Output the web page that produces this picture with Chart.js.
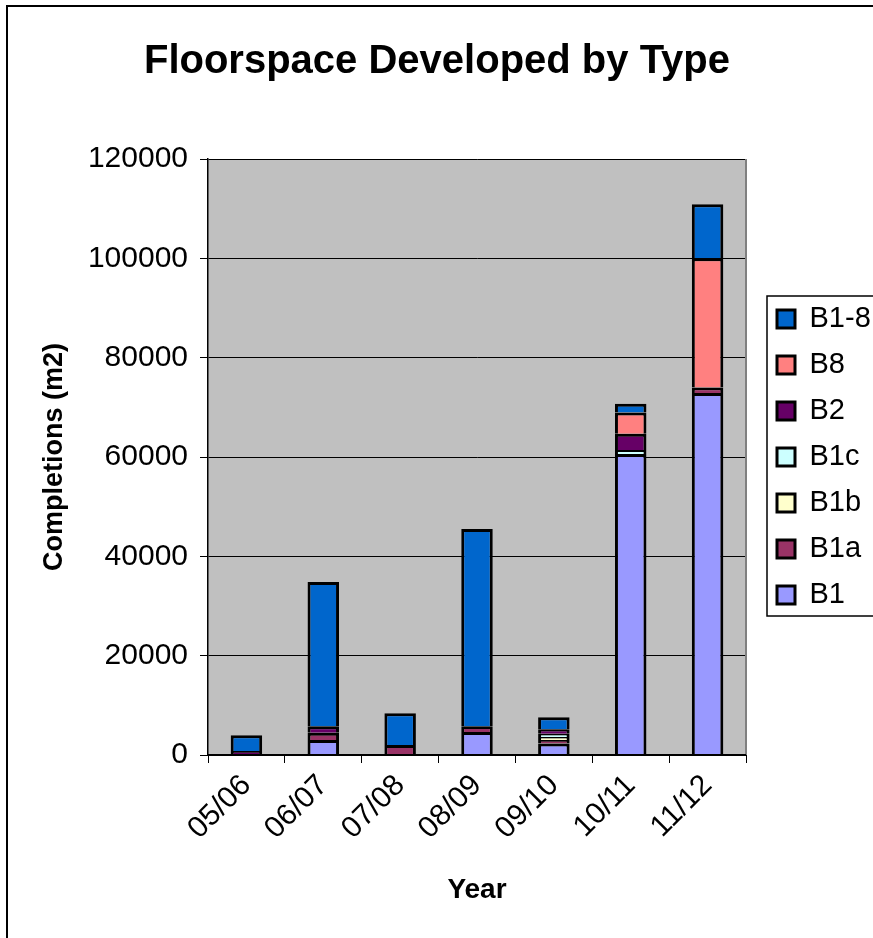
<!DOCTYPE html>
<html>
<head>
<meta charset="utf-8">
<script src="https://cdn.jsdelivr.net/npm/chart.js@4.4.1/dist/chart.umd.min.js"></script>
<style>
  html, body { margin: 0; padding: 0; background: #ffffff; }
  #wrap { width: 873px; height: 938px; }
</style>
</head>
<body>
<div id="wrap"><canvas id="chart" width="873" height="938"></canvas></div>
<script>
// Financial years on the x axis
const years = ['05/06', '06/07', '07/08', '08/09', '09/10', '10/11', '11/12'];

// Completed floorspace (m2) by use class, stacked from the bottom up
const b1   = [null, 3000, null, 4650, 2300, 60600, 72900];
const b1a  = [null, 1500, 2000, 1150, 700, null, 1100];
const b1b  = [null, null, null, null, 600, null, null];
const b1c  = [null, null, null, null, 700, 800, null];
const b2   = [800, 1300, null, null, 900, 3300, null];
const b8   = [null, null, null, null, null, 4250, 26000];
const b1_8 = [3200, 29050, 6400, 39700, 2400, 1750, 10900];

// y axis range and step
const yMin = 0;
const yMax = 120000;
const yStep = 20000;

const FONT = "'Liberation Sans', Arial, Helvetica, sans-serif";

function series(label, data, color) {
  return {
    label: label,
    data: data,
    backgroundColor: color,
    borderColor: '#000000',
    borderWidth: 3,
    borderSkipped: 'bottom',
    inflateAmount: 0,
    barPercentage: 0.41,
    categoryPercentage: 1.0
  };
}

// Page frame, grey plot background and the boxed legend panel
const backdrop = {
  id: 'backdrop',
  afterUpdate(chart) {
    const lg = chart.legend;
    if (lg) { lg.left += 14; lg.right += 14; }
  },
  beforeDraw(chart) {
    const ctx = chart.ctx;
    const a = chart.chartArea;
    ctx.save();
    ctx.fillStyle = '#ffffff';
    ctx.fillRect(0, 0, chart.width, chart.height);
    // outer frame (top and left edges)
    ctx.strokeStyle = '#000000';
    ctx.lineWidth = 2;
    ctx.beginPath();
    ctx.moveTo(7, chart.height + 5);
    ctx.lineTo(7, 6);
    ctx.lineTo(chart.width + 5, 6);
    ctx.stroke();
    // plot area
    ctx.fillStyle = '#c0c0c0';
    ctx.fillRect(a.left, a.top, a.right - a.left, a.bottom - a.top);
    // legend panel
    const lg = chart.legend;
    if (lg) {
      const x0 = lg.left + 7;
      ctx.fillStyle = '#ffffff';
      ctx.fillRect(x0, 296, chart.width - x0 + 10, 320);
      ctx.strokeStyle = '#000000';
      ctx.lineWidth = 1.5;
      ctx.strokeRect(x0, 296, chart.width - x0 + 10, 320);
    }
    ctx.restore();
  },
  beforeDatasetsDraw(chart) {
    const ctx = chart.ctx;
    const a = chart.chartArea;
    ctx.save();
    ctx.strokeStyle = '#808080';
    ctx.lineWidth = 2;
    ctx.beginPath();
    ctx.moveTo(a.right, a.top);
    ctx.lineTo(a.right, a.bottom);
    ctx.stroke();
    ctx.restore();
  },
  afterDatasetsDraw(chart) {
    // dark base line under the columns
    const ctx = chart.ctx;
    const a = chart.chartArea;
    ctx.save();
    ctx.strokeStyle = '#000000';
    ctx.lineWidth = 2;
    ctx.beginPath();
    ctx.moveTo(a.left, a.bottom);
    ctx.lineTo(a.right, a.bottom);
    ctx.stroke();
    ctx.restore();
  }
};

new Chart(document.getElementById('chart'), {
  type: 'bar',
  data: {
    labels: years,
    datasets: [
      series('B1', b1, '#9999ff'),
      series('B1a', b1a, '#993366'),
      series('B1b', b1b, '#ffffcc'),
      series('B1c', b1c, '#ccffff'),
      series('B2', b2, '#660066'),
      series('B8', b8, '#ff8080'),
      series('B1-8', b1_8, '#0066cc')
    ]
  },
  options: {
    responsive: false,
    animation: false,
    devicePixelRatio: 1,
    layout: { padding: { left: 8, right: 7, top: 0, bottom: 0 } },
    plugins: {
      tooltip: { enabled: false },
      title: {
        display: true,
        text: 'Floorspace Developed by Type',
        color: '#000000',
        font: { family: FONT, size: 40, weight: 'bold', lineHeight: 1.2 },
        padding: { top: 38, bottom: 73 }
      },
      legend: {
        display: true,
        position: 'right',
        fullSize: false,
        reverse: true,
        align: 'center',
        maxWidth: 120,
        labels: {
          color: '#000000',
          font: { family: FONT, size: 29 },
          boxWidth: 18,
          boxHeight: 18,
          padding: 17
        }
      }
    },
    scales: {
      x: {
        stacked: true,
        afterFit(scale) { scale.height = 183; },
        grid: {
          display: true,
          drawOnChartArea: false,
          drawTicks: true,
          tickLength: 8,
          color: '#000000',
          lineWidth: 1
        },
        border: { display: true, color: '#000000', width: 1 },
        ticks: {
          color: '#000000',
          font: { family: FONT, size: 30 },
          minRotation: 45,
          maxRotation: 45,
          autoSkip: false,
          padding: 5
        },
        title: {
          display: true,
          text: 'Year',
          color: '#000000',
          font: { family: FONT, size: 28, weight: 'bold', lineHeight: 1.2 },
          padding: { top: 0, bottom: 31 }
        }
      },
      y: {
        stacked: true,
        min: yMin,
        max: yMax,
        afterFit(scale) { scale.width = 200; },
        grid: {
          display: true,
          drawOnChartArea: true,
          drawTicks: true,
          tickLength: 8,
          color: '#000000',
          lineWidth: 1
        },
        border: { display: true, color: '#000000', width: 1.5 },
        ticks: {
          stepSize: yStep,
          color: '#000000',
          font: { family: FONT, size: 30 },
          padding: 12,
          callback: (value) => String(value)
        },
        title: {
          display: true,
          text: 'Completions (m2)',
          color: '#000000',
          font: { family: FONT, size: 27, weight: 'bold', lineHeight: 1.2 },
          padding: { top: 30, bottom: 0 }
        }
      }
    }
  },
  plugins: [backdrop]
});
</script>
</body>
</html>
